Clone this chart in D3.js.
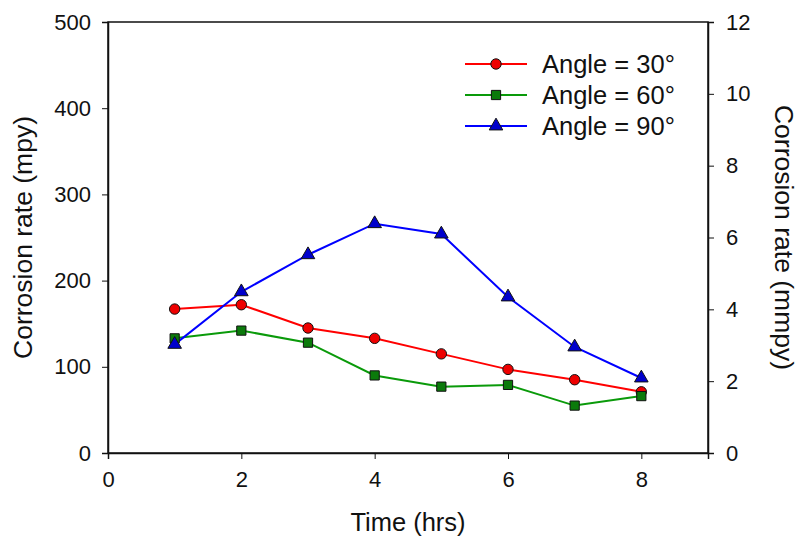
<!DOCTYPE html>
<html>
<head>
<meta charset="utf-8">
<script src="https://cdn.jsdelivr.net/npm/d3@7"></script>
<style>
  body { margin: 0; background: #fff; }
  text { font-family: "Liberation Sans", Arial, sans-serif; fill: #111; }
</style>
</head>
<body>
<svg></svg>
<script>
const hours = [1, 2, 3, 4, 5, 6, 7, 8];
const angle30 = [167, 172, 145, 133, 115, 97, 85, 71];
const angle60 = [133, 142, 128, 90, 77, 79, 55, 66];
const angle90 = [126, 187, 230, 266, 254, 181, 123, 87];
const seriesNames = ["Angle = 30°", "Angle = 60°", "Angle = 90°"];
const xTicks = [0, 2, 4, 6, 8];
const yLeftTicks = [0, 100, 200, 300, 400, 500];
const yRightTicks = [0, 2, 4, 6, 8, 10, 12];

const w = 798, h = 540;
const margin = {top: 22, right: 90, bottom: 87, left: 108};

const svg = d3.select('svg')
	.attr('width', w)
	.attr('height', h);

const x = d3.scaleLinear().domain([0, 9]).range([margin.left, w - margin.right]);
const yL = d3.scaleLinear().domain([0, 500]).range([h - margin.bottom, margin.top]);
const yR = d3.scaleLinear().domain([0, 12]).range([h - margin.bottom, margin.top]);

// frame
svg.append('rect')
	.attr('x', margin.left)
	.attr('y', margin.top)
	.attr('width', w - margin.left - margin.right)
	.attr('height', h - margin.top - margin.bottom)
	.attr('fill', 'none')
	.attr('stroke', '#111')
	.attr('stroke-width', 1.5);

const styleAxis = g => {
	g.select('.domain').attr('stroke', '#111').attr('stroke-width', 1.5);
	g.selectAll('.tick line').attr('stroke', '#111');
	g.selectAll('.tick text').style('font-size', '22px').attr('fill', '#111');
};

svg.append('g')
	.attr('transform', `translate(0,${h - margin.bottom})`)
	.call(d3.axisBottom(x).tickValues(xTicks).tickSize(6).tickPadding(12))
	.call(styleAxis);

svg.append('g')
	.attr('transform', `translate(${margin.left},0)`)
	.call(d3.axisLeft(yL).tickValues(yLeftTicks).tickSize(6).tickPadding(11))
	.call(styleAxis);

svg.append('g')
	.attr('transform', `translate(${w - margin.right},0)`)
	.call(d3.axisRight(yR).tickValues(yRightTicks).tickSize(6).tickPadding(12))
	.call(styleAxis);

// axis titles
svg.append('text')
	.attr('x', (margin.left + w - margin.right) / 2)
	.attr('y', 531)
	.attr('text-anchor', 'middle')
	.style('font-size', '25.5px')
	.text('Time (hrs)');

svg.append('text')
	.attr('transform', `translate(32,${(margin.top + h - margin.bottom) / 2}) rotate(-90)`)
	.attr('text-anchor', 'middle')
	.style('font-size', '26.5px')
	.text('Corrosion rate (mpy)');

svg.append('text')
	.attr('transform', `translate(775,${(margin.top + h - margin.bottom) / 2}) rotate(90)`)
	.attr('text-anchor', 'middle')
	.style('font-size', '26.5px')
	.text('Corrosion rate (mmpy)');

const series = [
	{name: seriesNames[0], values: angle30, color: '#ff0000', fill: '#ee0000', shape: d3.symbolCircle, size: 85},
	{name: seriesNames[1], values: angle60, color: '#0a9a0a', fill: '#0b7a0b', shape: d3.symbolSquare, size: 85},
	{name: seriesNames[2], values: angle90, color: '#0000ff', fill: '#0000cc', shape: d3.symbolTriangle, size: 80}
];

const line = d3.line()
	.x((d, i) => x(hours[i]))
	.y(d => yL(d));

series.forEach(s => {
	svg.append('path')
		.datum(s.values)
		.attr('fill', 'none')
		.attr('stroke', s.color)
		.attr('stroke-width', 2)
		.attr('d', line);
});

series.forEach(s => {
	svg.selectAll(null)
		.data(s.values)
		.enter()
		.append('path')
			.attr('d', d3.symbol().type(s.shape).size(s.size))
			.attr('transform', (d, i) => `translate(${x(hours[i])},${yL(d)})`)
			.attr('fill', s.fill)
			.attr('stroke', '#111')
			.attr('stroke-width', 1);
});

// legend
const legend = svg.append('g').attr('transform', 'translate(465,64)');
series.forEach((s, i) => {
	const g = legend.append('g').attr('transform', `translate(0,${i * 31})`);
	g.append('line')
		.attr('x1', 0).attr('x2', 62)
		.attr('y1', 0).attr('y2', 0)
		.attr('stroke', s.color)
		.attr('stroke-width', 2);
	g.append('path')
		.attr('d', d3.symbol().type(s.shape).size(s.size))
		.attr('transform', 'translate(31,0)')
		.attr('fill', s.fill)
		.attr('stroke', '#111');
	g.append('text')
		.attr('x', 77)
		.attr('y', 9)
		.style('font-size', '25.5px')
		.text(s.name);
});
</script>
</body>
</html>
